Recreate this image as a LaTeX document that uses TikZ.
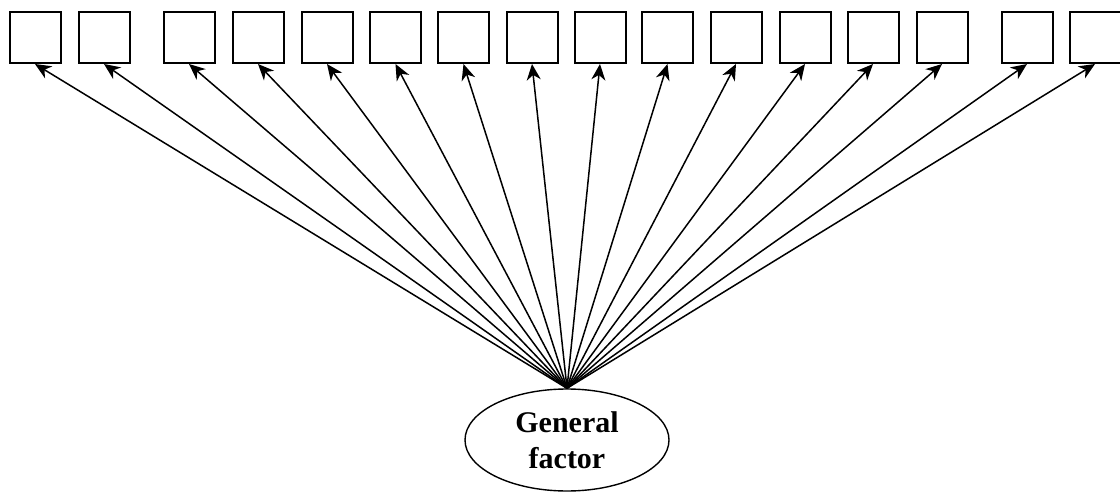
\documentclass[tikz,border=0pt]{standalone}
\usepackage{fontspec}
\setmainfont{Liberation Serif}
\usetikzlibrary{arrows.meta}
\usetikzlibrary{shapes.geometric}

\begin{document}
\begin{tikzpicture}[x=0.5pt,y=-0.5pt]
\tikzset{item/.style={draw, line width=1pt, minimum size=25.5pt, inner sep=0},
 factor/.style={draw, ellipse, line width=.7pt, minimum width=102pt, minimum height=51pt, inner sep=0, align=center, font=\fontsize{15}{18}\selectfont\bfseries},
 load/.style={-{Stealth[length=8pt, width=7pt, inset=2.5pt]}, line width=.75pt}}
\useasboundingbox (0,0) rectangle (1120,492);
\node[factor] (g) at (567,440) {General\\factor};
\foreach \i/\x in {1/35, 2/104, 3/189, 4/258, 5/327, 6/395.5, 7/463.5, 8/532, 9/600, 10/667.5, 11/736, 12/805, 13/873, 14/942, 15/1027, 16/1095} {
 \node[item] (b\i) at (\x,37.5) {};
 \draw[load] (g.north) -- (b\i.south);
}
\end{tikzpicture}
\end{document}
